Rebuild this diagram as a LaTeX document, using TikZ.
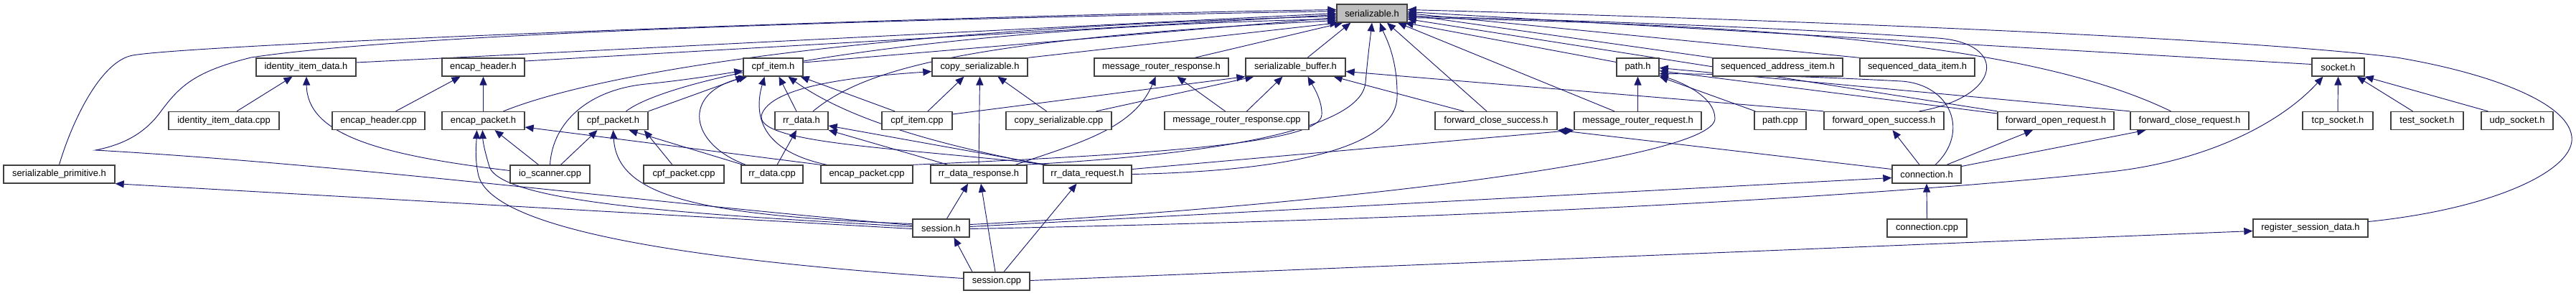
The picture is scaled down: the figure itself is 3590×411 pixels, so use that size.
\documentclass[tikz,border=0pt]{standalone}
\usepackage{fontspec}
\setmainfont{Liberation Sans}
\usetikzlibrary{arrows.meta,calc}
\definecolor{edgec}{RGB}{25,25,112}
\definecolor{boxc}{RGB}{64,64,64}
\definecolor{grayfill}{RGB}{191,191,191}
\pgfdeclarelayer{bg}
\pgfsetlayers{bg,main}
\begin{document}
\begin{tikzpicture}[x=0.75pt,y=-0.75pt,
  box/.style={draw=boxc,line width=1pt,fill=white,inner sep=0pt,minimum height=0.75pt*25,font=\fontsize{9.7pt}{11pt}\selectfont},
  bw/.style={minimum width=0.75pt*#1},
  inc/.style={draw=edgec,line width=0.7pt,-{Triangle[length=9pt,width=7.6pt]}}]
\useasboundingbox (0,0) rectangle (3590,411);
% row 0
\node[box,bw=98,fill=grayfill] (ser) at (1912,18.5) {serializable.h};
% row 1
\node[box,bw=139] (iidh) at (426.5,93.5) {identity\_item\_data.h};
\node[box,bw=115] (ehh) at (673.5,93.5) {encap\_header.h};
\node[box,bw=83] (cih) at (1077.5,93.5) {cpf\_item.h};
\node[box,bw=133] (csh) at (1365.5,93.5) {copy\_serializable.h};
\node[box,bw=187] (mrresh) at (1618.5,93.5) {message\_router\_response.h};
\node[box,bw=139] (sbh) at (1805.5,93.5) {serializable\_buffer.h};
\node[box,bw=59] (pathh) at (2282.5,93.5) {path.h};
\node[box,bw=181] (saih) at (2477.5,93.5) {sequenced\_address\_item.h};
\node[box,bw=160] (sdih) at (2672,93.5) {sequenced\_data\_item.h};
\node[box,bw=73] (sockh) at (3258.5,93.5) {socket.h};
% row 2
\node[box,bw=154] (iidc) at (312,168) {identity\_item\_data.cpp};
\node[box,bw=129] (ehc) at (527.5,168) {encap\_header.cpp};
\node[box,bw=115] (eph) at (673.5,168) {encap\_packet.h};
\node[box,bw=97] (cph) at (854.5,168) {cpf\_packet.h};
\node[box,bw=74] (rrh) at (1117,168) {rr\_data.h};
\node[box,bw=98] (cic) at (1278,168) {cpf\_item.cpp};
\node[box,bw=147] (csc) at (1475.5,168) {copy\_serializable.cpp};
\node[box,bw=201] (mrresc) at (1723.5,168) {message\_router\_response.cpp};
\node[box,bw=170] (fcsh) at (2085,168) {forward\_close\_success.h};
\node[box,bw=177] (mrreqh) at (2282.5,168) {message\_router\_request.h};
\node[box,bw=72] (pathc) at (2481,168) {path.cpp};
\node[box,bw=167] (fosh) at (2625.5,168) {forward\_open\_success.h};
\node[box,bw=162] (forh) at (2865,168) {forward\_open\_request.h};
\node[box,bw=165] (fcrh) at (3051.5,168) {forward\_close\_request.h};
\node[box,bw=98] (tcph) at (3258,168) {tcp\_socket.h};
\node[box,bw=101] (testh) at (3382.5,168) {test\_socket.h};
\node[box,bw=100] (udph) at (3508,168) {udp\_socket.h};
% row 3
\node[box,bw=155] (sph) at (82.5,242.5) {serializable\_primitive.h};
\node[box,bw=111] (ioc) at (766.5,242.5) {io\_scanner.cpp};
\node[box,bw=112] (cpc) at (953,242.5) {cpf\_packet.cpp};
\node[box,bw=86] (rrc) at (1076,242.5) {rr\_data.cpp};
\node[box,bw=128] (epc) at (1208,242.5) {encap\_packet.cpp};
\node[box,bw=134] (rrresh) at (1364,242.5) {rr\_data\_response.h};
\node[box,bw=123] (rrreqh) at (1515.5,242.5) {rr\_data\_request.h};
\node[box,bw=96] (connh) at (2685,242.5) {connection.h};
% row 4
\node[box,bw=79] (sessh) at (1311.5,317.5) {session.h};
\node[box,bw=111] (connc) at (2685.5,317.5) {connection.cpp};
\node[box,bw=160] (rsdh) at (3220,317.5) {register\_session\_data.h};
% row 5
\node[box,bw=92] (sessc) at (1389,391.5) {session.cpp};

\begin{pgfonlayer}{bg}
% ---- to serializable.h, left side
\draw[inc] (sph.north) .. controls (100,170) and (140,85) .. (185,77) .. controls (275,61) and (1300,22) .. ($(ser.west)+(0,-5)$);
\draw[inc] ($(sessh.west)+(0,-4)$) .. controls (900,282) and (500,230) .. (133,209) .. controls (180,200) and (205,180) .. (222,158) .. controls (250,120) and (270,100) .. (350,80) .. controls (600,42) and (1400,24) .. ($(ser.west)+(0,-3)$);
\draw[inc] ($(iidh.east)+(0,-6.5)$) -- (ser.west);
\draw[inc] ($(ehh.east)+(0,-8.5)$) -- ($(ser.west)+(0,2)$);
\draw[inc] ($(eph.north)+(28,0)$) .. controls (800,115) and (1100,45) .. ($(ser.west)+(0,4)$);
\draw[inc] ($(cih.east)+(0,-6.5)$) -- ($(ser.west)+(0,6)$);
\draw[inc] ($(cph.north)+(18,0)$) .. controls (930,110) and (1250,40) .. ($(ser.west)+(0,8)$);
\draw[inc] ($(rrh.north)+(16,0)$) .. controls (1200,100) and (1330,55) .. ($(ser.west)+(0,10)$);
\draw[inc] (csh.north east) -- ($(ser.south west)+(3,0)$);
\draw[inc] ($(mrresh.north)+(46.5,0)$) -- ($(ser.south west)+(9,0)$);
\draw[inc] ($(sbh.north)+(16.5,0)$) -- ($(ser.south west)+(20,0)$);
% bottom
\draw[inc] ($(rrresh.north)+(63,0)$) .. controls (1750,212) and (1898,170) .. (1903,115) .. controls (1906,80) and (1910,50) .. (ser.south);
\draw[inc] (rrreqh.east) .. controls (1800,238) and (1945,205) .. (1947,135) .. controls (1948,80) and (1930,50) .. ($(ser.south)+(11,0)$);
\draw[inc] ($(fcsh.north)+(-13,0)$) -- ($(ser.south)+(21,0)$);
\draw[inc] ($(mrreqh.north)+(-32.5,0)$) -- ($(ser.south)+(36,0)$);
\draw[inc] ($(pathh.west)+(0,-7)$) -- ($(ser.south east)+(-4,0)$);
% right side
\draw[inc] (saih.north west) -- ($(ser.east)+(0,2)$);
\draw[inc] (sdih.north west) -- (ser.east);
\draw[inc] ($(sockh.west)+(0,-4)$) -- ($(ser.east)+(0,-2)$);
\draw[inc] ($(rsdh.east)+(0,-9)$) .. controls (3480,290) and (3590,235) .. (3584,190) .. controls (3578,140) and (3460,100) .. (3340,80) .. controls (3100,50) and (2400,25) .. ($(ser.east)+(0,-5)$);
\draw[inc] ($(fcrh.north)+(-26,0)$) .. controls (2840,65) and (2500,35) .. ($(ser.east)+(0,6)$);
\draw[inc] (fosh.15) .. controls (2790,135) and (2800,60) .. (2700,53) .. controls (2500,39) and (2200,28) .. ($(ser.east)+(0,4)$);
\draw[inc] (forh.north west) -- ($(ser.east)+(0,8)$);

% identity_item_data.h
\draw[inc] ($(iidc.north)+(18,0)$) -- ($(iidh.south)+(-19,0)$);
\draw[inc] ($(ioc.west)+(0,-5)$) .. controls (520,215) and (428,185) .. ($(iidh.south)+(0.5,0)$);
% encap_header.h
\draw[inc] ($(ehc.north)+(24,0)$) -- ($(ehh.south)+(-32,0)$);
\draw[inc] (eph.north) -- (ehh.south);
% encap_packet.h
\draw[inc] ($(ioc.north)+(-16,0)$) -- ($(eph.south)+(16,0)$);
\draw[inc] (epc.north west) -- ($(eph.east)+(0,9)$);
\draw[inc] ($(sessh.west)+(0,-2)$) .. controls (1000,300) and (700,285) .. (682,232) .. controls (676,212) and (673,198) .. ($(eph.south)+(-1,0)$);
\draw[inc] ($(sessc.west)+(0,-4)$) .. controls (1000,365) and (690,325) .. (667,245) .. controls (661,220) and (664,198) .. ($(eph.south)+(-9,0)$);
% cpf_item.h
\draw[inc] (ioc.north) .. controls (770,170) and (820,125) .. (900,117) .. controls (960,111) and (1000,104) .. ($(cih.west)+(0,5)$);
\draw[inc] (cph.north east) -- ($(cih.south west)+(2,0)$);
\draw[inc] ($(rrc.north west)+(7,0)$) .. controls (960,200) and (950,130) .. ($(cih.south west)+(6,0)$);
\draw[inc] ($(epc.north west)+(9,0)$) .. controls (1060,210) and (1050,160) .. ($(cih.south)+(-12,0)$);
\draw[inc] ($(rrh.north)+(-7,0)$) -- ($(cih.south)+(8,0)$);
\draw[inc] (rrreqh.north west) .. controls (1300,200) and (1180,165) .. ($(cih.south)+(21,0)$);
\draw[inc] ($(cic.north)+(-31,0)$) -- ($(cih.south east)+(-4,0)$);
% cpf_packet.h
\draw[inc] ($(ioc.north)+(15,0)$) -- ($(cph.south)+(-22,0)$);
\draw[inc] ($(sessh.west)+(0,-6)$) .. controls (960,300) and (860,270) .. (cph.south);
\draw[inc] ($(cpc.north)+(-16,0)$) -- ($(cph.south east)+(-6,0)$);
\draw[inc] ($(rrc.north west)+(3,0)$) -- ($(cph.south)+(22,0)$);
% rr_data.h
\draw[inc] ($(rrc.north)+(7,0)$) -- ($(rrh.south)+(-7,0)$);
\draw[inc] ($(rrresh.north)+(-43,0)$) -- (rrh.south east);
\draw[inc] ($(rrreqh.north west)+(4,0)$) -- ($(rrh.east)+(0,7)$);
% copy_serializable.h
\draw[inc] ($(cic.north)+(15,0)$) -- ($(csh.south)+(-22,0)$);
\draw[inc] ($(csc.north)+(-17,0)$) -- ($(csh.south)+(25,0)$);
\draw[inc] (rrresh.north) -- (csh.south);
\draw[inc] ($(rrreqh.north west)+(8,0)$) .. controls (1250,205) and (1045,200) .. (1062,158) .. controls (1080,115) and (1220,105) .. ($(csh.west)+(0,6)$);
% message_router_response.h
\draw[inc] ($(mrresc.north)+(-16,0)$) -- ($(mrresh.south)+(22,0)$);
\draw[inc] ($(rrresh.north)+(51,0)$) .. controls (1500,200) and (1580,180) .. ($(mrresh.south)+(-8,0)$);
% serializable_buffer.h
\draw[inc] ($(cic.east)+(0,-9)$) -- (sbh.south west);
\draw[inc] ($(csc.north)+(52,0)$) -- ($(sbh.south west)+(12,0)$);
\draw[inc] ($(mrresc.north)+(14,0)$) -- ($(sbh.south)+(-18,0)$);
\draw[inc] (epc.north east) .. controls (1600,215) and (1840,200) .. (1842,160) .. controls (1843,140) and (1830,120) .. ($(sbh.south)+(17,0)$);
\draw[inc] (fosh.north west) -- ($(sbh.east)+(0,6)$);
\draw[inc] ($(fcsh.north)+(-45,0)$) -- ($(sbh.south east)+(-17,0)$);
% path.h
\draw[inc] (mrreqh.north) -- (pathh.south);
\draw[inc] ($(pathc.north west)+(2,0)$) -- (pathh.south east);
\draw[inc] ($(sessh.east)+(0,-5)$) .. controls (1800,290) and (2390,225) .. (2390,165) .. controls (2390,135) and (2345,115) .. ($(pathh.south east)+(0,-2)$);
\draw[inc] ($(connh.north)+(12,0)$) .. controls (2745,185) and (2720,118) .. (2650,113) .. controls (2500,105) and (2380,103) .. ($(pathh.east)+(0,9)$);
\draw[inc] ($(forh.west)+(0,-10)$) -- ($(pathh.east)+(0,5)$);
\draw[inc] (fcrh.north west) -- ($(pathh.east)+(0,1)$);
% forward_* and message_router_request.h
\draw[inc] ($(connh.north)+(-10,0)$) -- ($(fosh.south)+(12,0)$);
\draw[inc] ($(connh.north)+(28,0)$) -- ($(forh.south)+(-32,0)$);
\draw[inc] ($(connh.east)+(0,-11)$) -- ($(fcrh.south west)+(22,0)$);
\draw[inc] ($(connh.west)+(0,-7)$) -- (fcsh.south east);
\draw[inc] ($(rrreqh.east)+(0,-7)$) -- (mrreqh.south west);
% connection.h
\draw[inc] ($(sessh.east)+(0,-2)$) -- ($(connh.west)+(0,5)$);
\draw[inc] (connc.north) -- (connh.south);
% socket.h
\draw[inc] ($(sessh.east)+(0,1)$) .. controls (2300,300) and (2800,255) .. (2950,238) .. controls (3080,222) and (3180,170) .. ($(sockh.south)+(-21,0)$);
\draw[inc] (tcph.north) -- (sockh.south);
\draw[inc] ($(testh.north)+(-20,0)$) -- ($(sockh.south east)+(-11,0)$);
\draw[inc] ($(udph.north west)+(10,0)$) -- (sockh.south east);
% serializable_primitive.h
\draw[inc] ($(sessh.west)+(0,1)$) -- (sph.south east);
% session level
\draw[inc] ($(sessh.north)+(8,0)$) -- ($(rrresh.south)+(-15,0)$);
\draw[inc] ($(sessc.north)+(-2,0)$) -- ($(rrresh.south)+(3,0)$);
\draw[inc] ($(sessc.north)+(10,0)$) -- ($(rrreqh.south)+(-15,0)$);
\draw[inc] ($(sessc.north)+(-34,0)$) -- ($(sessh.south)+(18,0)$);
\draw[inc] ($(sessc.east)+(0,-1)$) -- ($(rsdh.west)+(0,4)$);
\end{pgfonlayer}
\end{tikzpicture}
\end{document}
